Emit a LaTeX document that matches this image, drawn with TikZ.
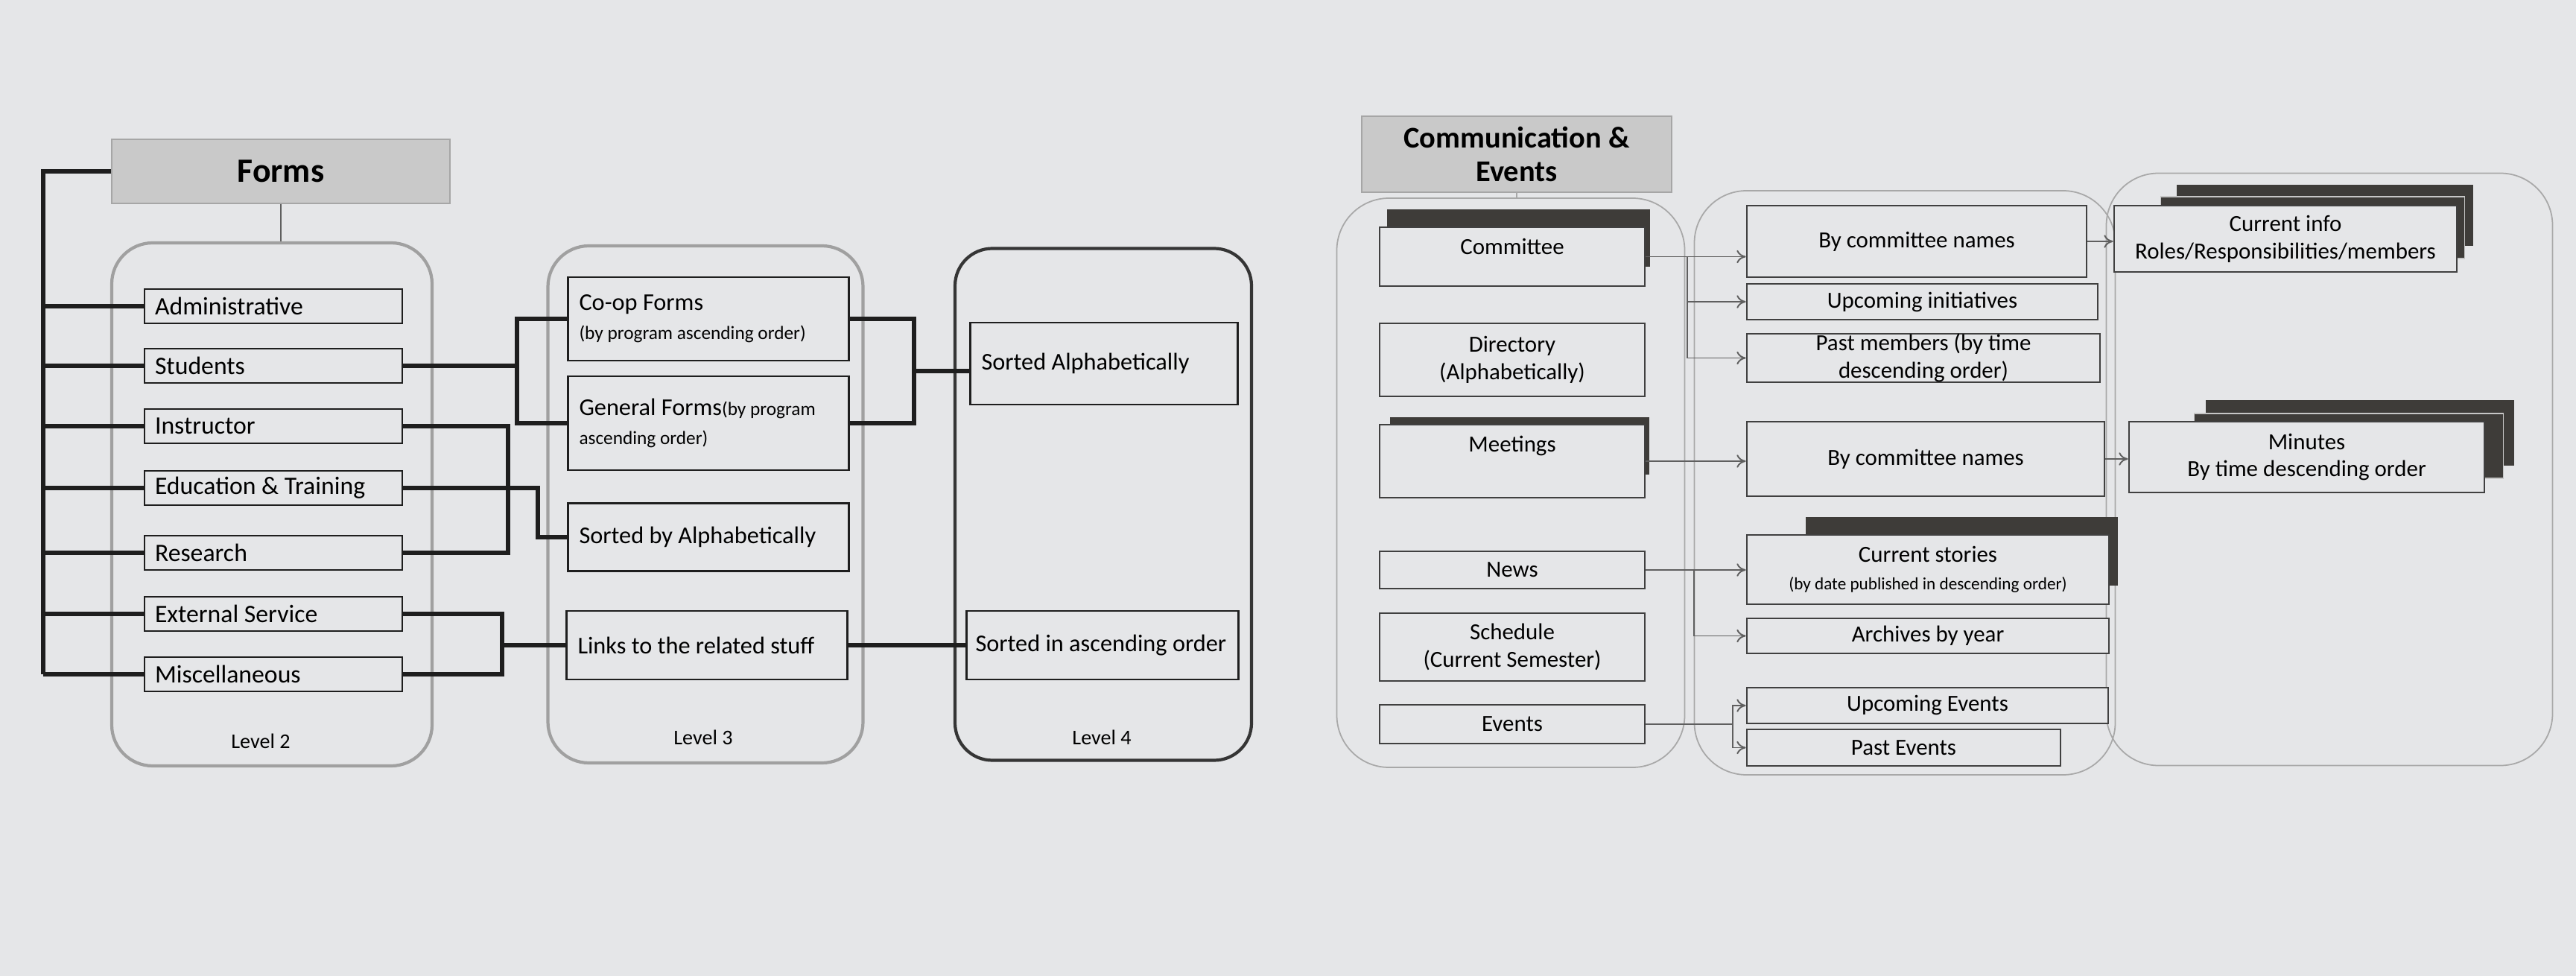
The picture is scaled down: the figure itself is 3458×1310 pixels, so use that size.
\documentclass[tikz,border=0pt]{standalone}
\usepackage{fontspec}
\setmainfont{Carlito}
\usepackage{tikz}
\usetikzlibrary{positioning,calc,arrows.meta}

\definecolor{paper}{RGB}{229,230,232}
\definecolor{hdrgray}{RGB}{201,201,201}
\definecolor{inkline}{RGB}{30,30,30}
\definecolor{rimgray}{RGB}{160,160,160}
\definecolor{thingray}{RGB}{168,168,168}
\definecolor{shadowgray}{RGB}{62,60,57}
\definecolor{wiregray}{RGB}{95,95,95}

\tikzset{
  hdr/.style={fill=hdrgray, draw=gray!70, line width=0.4pt, align=flush center, inner sep=0pt},
  bus/.style={line width=1.7pt, draw=inkline},
  lvl/.style={draw=rimgray, line width=1.2pt, rounded corners=5.5mm},
  itm/.style={draw=inkline, line width=0.85pt, fill=paper, inner ysep=0pt, align=flush left, font=\fontsize{9.2}{11}\selectfont},
  l2item/.style={itm, font=\fontsize{9.6}{11}\selectfont, inner xsep=0.14cm, text width=3.18cm, minimum height=0.46cm},
  l3item/.style={itm, inner xsep=0.15cm, text width=3.47cm},
  lvltxt/.style={font=\fontsize{8}{9}\selectfont},
  pane/.style={draw=thingray, line width=0.5pt, rounded corners=7mm},
  cbox/.style={draw=inkline!85, line width=0.8pt, fill=paper, inner sep=0pt, align=flush center, font=\fontsize{8.8}{10.5}\selectfont},
  wire/.style={draw=wiregray, line width=0.55pt},
  >={To[length=3.5pt,width=5pt]},
}

\begin{document}
\begin{tikzpicture}[x=0.1mm, y=-0.1mm]
  \fill[paper] (0,0) rectangle (3458,1310);
  \useasboundingbox (0,0) rectangle (3458,1310);

  % ---- Forms ----
  \node[hdr, minimum width=4.54cm, minimum height=0.86cm, font=\bfseries\fontsize{13}{15}\selectfont] (forms) at (377,230) {Forms};
  \node[lvl, minimum width=4.30cm, minimum height=7.02cm] (lvl2) at (365,677) {};
  \node[lvl, minimum width=4.23cm, minimum height=6.94cm] (lvl3) at (947,677) {};
  \node[lvl, draw=inkline!90, rounded corners=5mm, minimum width=3.98cm, minimum height=6.87cm] (lvl4) at (1481,677) {};

  \node[l2item] (adm) at (367,411) {Administrative};
  \node[l2item] (stu) at (367,491) {Students};
  \node[l2item] (ins) at (367,572) {Instructor};
  \node[l2item] (edu) at (367,655) {Education \& Training};
  \node[l2item] (res) at (367,742) {Research};
  \node[l2item] (ext) at (367,824) {External Service};
  \node[l2item] (misc) at (367,905) {Miscellaneous};

  \node[l3item, minimum height=1.12cm] (coop) at (951,428) {Co-op Forms\\{\fontsize{7.2}{8}\selectfont(by program ascending order)}};
  \node[l3item, minimum height=1.26cm] (gen) at (951,568) {General Forms{\fontsize{7.2}{8}\selectfont(by program}\\{\fontsize{7.2}{8}\selectfont ascending order)}};
  \node[l3item, minimum height=0.91cm] (sba) at (951,721) {Sorted by Alphabetically};
  \node[l3item, minimum height=0.92cm] (links) at (949,866) {Links to the related stuff};

  \node[itm, inner xsep=0.15cm, text width=3.29cm, minimum height=1.10cm] (sa) at (1482,488) {Sorted Alphabetically};
  \node[itm, inner xsep=0.12cm, text width=3.41cm, minimum height=0.92cm] (sasc) at (1480,866) {Sorted in ascending order};

  \node[lvltxt] (l2lab) at (350,995) {Level 2};
  \node[lvltxt] (l3lab) at (944,990) {Level 3};
  \node[lvltxt] (l4lab) at (1479,990) {Level 4};

  \draw[wire] (forms.south) -- (forms.south |- lvl2.north);
  \coordinate (bb) at (58,905);
  \draw[bus] (forms.west) -| (bb);
  \foreach \n in {adm,stu,ins,edu,res,ext,misc}
    \draw[bus] (\n.west) -- (\n.west -| bb);

  \coordinate (f1) at (694,491);
  \draw[bus] (stu.east) -- (f1);
  \draw[bus] (coop.west) -| (f1) |- (gen.west);
  \coordinate (f2) at (682,655);
  \draw[bus] (ins.east) -| (f2) |- (res.east);
  \draw[bus] (edu.east) -- (f2) -- ++(40,0) |- (sba.west);
  \coordinate (f3) at (674,866);
  \draw[bus] (ext.east) -| (f3) |- (misc.east);
  \draw[bus] (f3) -- (links.west);
  \coordinate (f4) at (1227,498);
  \draw[bus] (coop.east) -| (f4) |- (gen.east);
  \draw[bus] (f4) -- (f4 -| sa.west);
  \draw[bus] (links.east) -- (sasc.west);

  % ---- Communication & Events ----
  \node[hdr, minimum width=4.16cm, minimum height=1.02cm, font=\bfseries\fontsize{11.5}{13}\selectfont] (ce) at (2036,207) {Communication \&\\Events};
  \node[pane, minimum width=4.67cm, minimum height=7.64cm] (panea) at (2028,648) {};
  \node[pane, minimum width=5.65cm, minimum height=7.84cm] (paneb) at (2557,648) {};
  \node[pane, minimum width=5.99cm, minimum height=7.95cm] (panec) at (3127,630) {};
  \draw[wire, draw=thingray] (ce.south) -- (ce.south |- panea.north);

  % shadows
  \fill[shadowgray] (1862,281) rectangle (2215,358);
  \fill[shadowgray] (1866,560) rectangle (2214,637);
  \fill[shadowgray] (2424,694) rectangle (2843,786);
  \fill[shadowgray] (2922,248) rectangle (3320,330);
  \filldraw[fill=shadowgray, draw=gray!45, line width=0.3pt] (2900,264) rectangle (3308,347);
  \fill[shadowgray] (2961,537) rectangle (3375,625);
  \filldraw[fill=shadowgray, draw=gray!45, line width=0.3pt] (2945,555) rectangle (3360,642);

  \node[cbox, minimum width=3.56cm, minimum height=0.79cm,
        label={[cbox, draw=none, fill=none, anchor=north, yshift=-1.5mm]north:Committee}] (cmt) at (2030,344.5) {};
  \node[cbox, minimum width=3.56cm, minimum height=0.98cm] (dir) at (2030,483) {Directory\\(Alphabetically)};
  \node[cbox, minimum width=3.56cm, minimum height=0.98cm,
        label={[cbox, draw=none, fill=none, anchor=north, yshift=-1.5mm]north:Meetings}] (mtg) at (2030,619) {};
  \node[cbox, minimum width=3.56cm, minimum height=0.50cm] (news) at (2030,765) {News};
  \node[cbox, minimum width=3.56cm, minimum height=0.91cm] (sch) at (2030,868.5) {Schedule\\(Current Semester)};
  \node[cbox, minimum width=3.56cm, minimum height=0.52cm] (evt) at (2030,972) {Events};

  \node[cbox, minimum width=4.56cm, minimum height=0.96cm] (bcn1) at (2573,324) {By committee names};
  \node[cbox, minimum width=4.71cm, minimum height=0.48cm] (upi) at (2580.5,405) {Upcoming initiatives};
  \node[cbox, minimum width=4.74cm, minimum height=0.65cm] (pm) at (2582,480.5) {Past members (by time\\descending order)};
  \node[cbox, minimum width=4.80cm, minimum height=1.00cm] (bcn2) at (2585,616) {By committee names};
  \node[cbox, minimum width=4.86cm, minimum height=0.93cm] (cs) at (2588,764.5) {Current stories\\{\fontsize{6.6}{8}\selectfont(by date published in descending order)}};
  \node[cbox, minimum width=4.86cm, minimum height=0.47cm] (arc) at (2588,853.5) {Archives by year};
  \node[cbox, minimum width=4.85cm, minimum height=0.48cm] (ue) at (2587.5,947) {Upcoming Events};
  \node[cbox, minimum width=4.21cm, minimum height=0.49cm] (pe) at (2555.5,1003.5) {Past Events};

  \node[cbox, minimum width=4.60cm, minimum height=0.89cm] (ci) at (3068,320.5) {Current info\\Roles/Responsibilities/members};
  \node[cbox, minimum width=4.77cm, minimum height=0.95cm] (min) at (3096.5,613.5) {Minutes\\By time descending order};

  \draw[wire, ->] (cmt.east) -- (cmt.east -| bcn1.west);
  \coordinate (k1) at (2265,344.5);
  \draw[wire, ->] (k1) |- (upi.west);
  \draw[wire, ->] (k1) |- (pm.west);
  \draw[wire, ->] (mtg.east) -- (mtg.east -| bcn2.west);
  \draw[wire, ->] (news.east) -- (news.east -| cs.west);
  \coordinate (k2) at (2274,765);
  \draw[wire, ->] (k2) |- (arc.west);
  \coordinate (k3) at (2326,972);
  \draw[wire] (evt.east) -- (k3);
  \draw[wire, ->] (k3) |- (ue.west);
  \draw[wire, ->] (k3) |- (pe.west);
  \draw[wire, ->] (bcn1.east) -- (bcn1.east -| ci.west);
  \draw[wire, ->] (bcn2.east) -- (bcn2.east -| min.west);
\end{tikzpicture}
\end{document}
